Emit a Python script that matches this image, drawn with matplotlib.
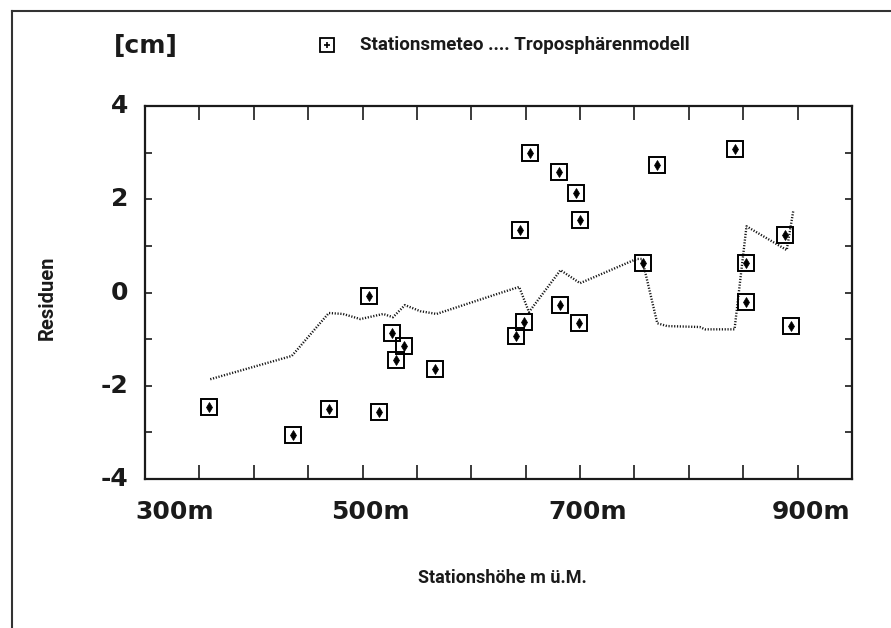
import matplotlib
matplotlib.use("Agg")
import matplotlib.pyplot as plt
import matplotlib.transforms as mtransforms
from matplotlib.lines import Line2D

# --- data ---
station_height = [359, 436, 469, 515, 506, 527, 538, 531, 567, 641, 648, 645, 654,
                  681, 696, 700, 682, 699, 758, 771, 842, 853, 853, 888, 894]
station_resid = [-2.46, -3.06, -2.50, -2.57, -0.08, -0.87, -1.15, -1.45, -1.64, -0.94,
                 -0.64, 1.34, 3.00, 2.58, 2.13, 1.55, -0.27, -0.66, 0.63, 2.73,
                 3.08, 0.63, -0.21, 1.23, -0.72]

model_height = [360, 435, 469, 482, 498, 519, 528, 539, 553, 568, 624, 644, 653,
                682, 700, 752, 757, 771, 780, 810, 815, 842, 853, 890, 896]
model_resid = [-1.86, -1.36, -0.44, -0.46, -0.57, -0.46, -0.53, -0.27, -0.40, -0.46,
               -0.03, 0.12, -0.42, 0.48, 0.20, 0.72, 0.72, -0.66, -0.72, -0.74,
               -0.79, -0.79, 1.42, 0.91, 1.75]

x_ticks = list(range(300, 951, 50))
x_label_vals = [300, 500, 700, 900]
y_ticks = [-4, -3, -2, -1, 0, 1, 2, 3, 4]
y_label_vals = [-4, -2, 0, 2, 4]

narrow = "Roboto"
bold = "DejaVu Sans"
ink = "#1a1a1a"

fig = plt.figure(figsize=(8.91, 6.28), dpi=100)
ax = fig.add_axes([145/891, 1-479/628, 707/891, 373/628])

ax.plot(model_height, model_resid, color="#151515", lw=1.7,
        linestyle=(0, (0.5, 0.7)), zorder=2)
ax.plot(station_height, station_resid, linestyle="none", marker="s", ms=11.5,
        mfc="none", mec="black", mew=1.4, zorder=3)
ax.plot(station_height, station_resid, linestyle="none", marker="d", ms=5,
        mfc="black", mec="black", mew=0.5, zorder=4)

ax.set_xlim(300, 950)
ax.set_ylim(-4, 4)
ax.set_xticks(x_ticks)
ax.set_xticklabels([""] * len(x_ticks))
ax.set_yticks(y_ticks)
ax.set_yticklabels([""] * len(y_ticks))
ax.tick_params(axis="x", direction="in", length=10, width=1.2, top=True, bottom=True,
               color=ink)
ax.tick_params(axis="y", direction="in", length=5, width=1.2, left=True, right=True,
               color=ink)
for s in ax.spines.values():
    s.set_linewidth(1.6)
    s.set_color(ink)

# x labels: "<value>m" placed under the tick (first one sits inside the frame)
x_label_shift = [30, 8, 8, 13]  # pixels
for v, sh in zip(x_label_vals, x_label_shift):
    off = mtransforms.offset_copy(ax.transData, fig=fig, x=sh, y=0, units="dots")
    ax.text(v, -4.71, f"{v}m", transform=off, ha="center", va="center",
            fontsize=18, fontweight="bold", family=bold, color=ink)

for v in y_label_vals:
    ax.text(-0.024, (v + 4) / 8, f"{v}", transform=ax.transAxes, ha="right", va="center",
            fontsize=18, fontweight="bold", family=bold, color=ink)

fig.text(146/891, 1-46/628, "[cm]", ha="center", va="center", fontsize=18,
         fontweight="bold", family=bold, color=ink)
fig.text(47/891, 1-298/628, "Residuen", rotation=90, ha="center", va="center",
         fontsize=14.5, fontweight="bold", family=narrow, color=ink)
fig.text(502/891, 1-578/628, "Stationshöhe m ü.M.", ha="center", va="center",
         fontsize=13, fontweight="bold", family=narrow, color=ink)

# legend
fig.lines.append(Line2D([327/891], [1-45/628], marker="s", ms=10, mfc="none",
                        mec="black", mew=1.3, transform=fig.transFigure))
fig.lines.append(Line2D([327/891], [1-45/628], marker="+", ms=5, color="black",
                        mew=1.2, transform=fig.transFigure))
fig.text(360/891, 1-45/628, "Stationsmeteo .... Troposphärenmodell", ha="left",
         va="center", fontsize=13.5, fontweight="bold", family=narrow, color=ink)

# page frame (top and left)
fig.lines.append(Line2D([12/891, 1], [1-11/628, 1-11/628], color="#333333", lw=1.5,
                        transform=fig.transFigure))
fig.lines.append(Line2D([12/891, 12/891], [1-11/628, 0], color="#333333", lw=1.5,
                        transform=fig.transFigure))

fig.savefig("out.png", dpi=100)
